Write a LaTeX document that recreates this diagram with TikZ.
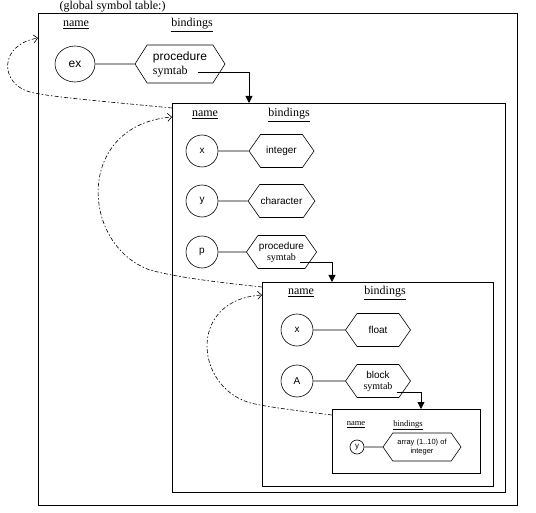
\documentclass[tikz,border=0pt]{standalone}
\usepackage{fontspec}
\setmainfont{Liberation Serif}
\setsansfont{Liberation Sans}
\usetikzlibrary{shapes.geometric,shapes.symbols,arrows.meta}

\begin{document}
\begin{tikzpicture}[x=1pt,y=-1pt,
  tbl/.style={draw, line width=0.8pt, inner sep=0pt, outer sep=0pt},
  hdr/.style={font=\fontsize{12}{12}\selectfont},
  sym/.style={circle, draw, line width=0.6pt, minimum size=32pt, inner sep=0pt, font=\sffamily\fontsize{10}{10}\selectfont},
  bind/.style={signal, signal to=west and east, signal pointer angle=110, draw, line width=0.6pt, minimum width=65pt, minimum height=33pt, inner sep=1pt, align=center, font=\sffamily\fontsize{10}{11}\selectfont},
  ptr/.style={line width=0.8pt, -{Triangle[length=7pt,width=7pt]}},
  back/.style={line width=0.6pt, dash pattern=on 4pt off 2pt on 1.5pt off 2pt, -{Straight Barb[length=4pt,width=8pt]}}]
\useasboundingbox (0,0) rectangle (536,513);

% tables
\node[tbl, minimum width=479pt, minimum height=492pt] (glob) at (277.5,259) {};
\node[tbl, minimum width=333pt, minimum height=389pt] (tp) at (338.5,297.5) {};
\node[tbl, minimum width=231pt, minimum height=204pt] (ta) at (377.5,384) {};
\node[tbl, minimum width=148pt, minimum height=64pt] (tb) at (406,441) {};

\node[hdr] (title) at (112.5,7) {(global symbol table:)};

% global table
\node[hdr] (gname) at (76,25) {\underline{name}};
\node[hdr] (gbind) at (192,25) {\underline{bindings}};
\node[ellipse, draw, line width=0.6pt, minimum width=40pt, minimum height=36pt, inner sep=0pt, font=\sffamily\fontsize{12}{12}\selectfont] (ex) at (75,64) {ex};
\node[bind, minimum width=90pt, minimum height=38pt, signal pointer angle=115, align=left, font=\sffamily\fontsize{12}{14}\selectfont] (exb) at (180,64) {procedure\\\rmfamily symtab};
\draw[line width=0.6pt] (ex) -- (exb);

% table of p
\node[hdr] (pname) at (205,115) {\underline{name}};
\node[hdr] (pbind) at (289,115) {\underline{bindings}};
\node[sym] (x) at (202,151) {x};
\node[sym] (y) at (202,201) {y};
\node[sym] (p) at (202,252) {p};
\node[bind] (xb) at (281.5,151) {integer};
\node[bind] (yb) at (281.5,201) {character};
\node[bind] (pb) at (281.5,252) {procedure\\\rmfamily symtab};
\draw[line width=0.6pt] (x) -- (xb);
\draw[line width=0.6pt] (y) -- (yb);
\draw[line width=0.6pt] (p) -- (pb);

% table of the block
\node[hdr] (aname) at (301,293) {\underline{name}};
\node[hdr] (abind) at (385,293) {\underline{bindings}};
\node[sym] (x2) at (297,330) {x};
\node[sym] (A) at (297,381) {A};
\node[bind] (x2b) at (378,330) {float};
\node[bind] (Ab) at (378,381) {block\\\rmfamily symtab};
\draw[line width=0.6pt] (x2) -- (x2b);
\draw[line width=0.6pt] (A) -- (Ab);

% innermost table
\node[font=\fontsize{8.5}{8.5}\selectfont] (bname) at (356,425) {\underline{name}};
\node[font=\fontsize{8.5}{8.5}\selectfont] (bbind) at (408,425) {\underline{bindings}};
\node[sym, minimum size=14pt, font=\sffamily\fontsize{8}{8}\selectfont] (y2) at (357,447) {y};
\node[bind, minimum width=78pt, minimum height=28pt, font=\sffamily\fontsize{7.5}{9}\selectfont] (y2b) at (422,447) {array (1..10) of\\integer};
\draw[line width=0.6pt] (y2) -- (y2b);

% pointers to the nested tables
\coordinate (exs) at ([xshift=18pt,yshift=-8pt]exb.center);
\coordinate (tpin) at ([xshift=77pt]tp.north west);
\draw[ptr] (exs) -| (tpin);
\coordinate (ps) at ([xshift=18.5pt,yshift=-10pt]pb.center);
\coordinate (tain) at ([xshift=70pt]ta.north west);
\draw[ptr] (ps) -| (tain);
\coordinate (As) at ([xshift=19pt,yshift=-11pt]Ab.center);
\coordinate (tbin) at ([xshift=89pt]tb.north west);
\draw[ptr] (As) -| (tbin);

% links back to the enclosing tables
\coordinate (s1) at ([yshift=-5pt]tp.north west);
\coordinate (e1) at ([yshift=-25pt]glob.north west);
\coordinate (s2) at ([yshift=-5pt]ta.north west);
\coordinate (e2) at ([yshift=-14pt]tp.north west);
\coordinate (s3) at ([yshift=-6pt]tb.north west);
\coordinate (e3) at ([yshift=-13pt]ta.north west);
\draw[back] (s1) .. controls (100,101) and (50,97) .. (30,92) .. controls (0,84) and (-2,45) .. (e1);
\draw[back] (s2) .. controls (215,282) and (175,277) .. (150,270) .. controls (80,245) and (75,125) .. (e2);
\draw[back] (s3) .. controls (300,411) and (275,408) .. (255,404) .. controls (195,392) and (185,300) .. (e3);
\end{tikzpicture}
\end{document}
